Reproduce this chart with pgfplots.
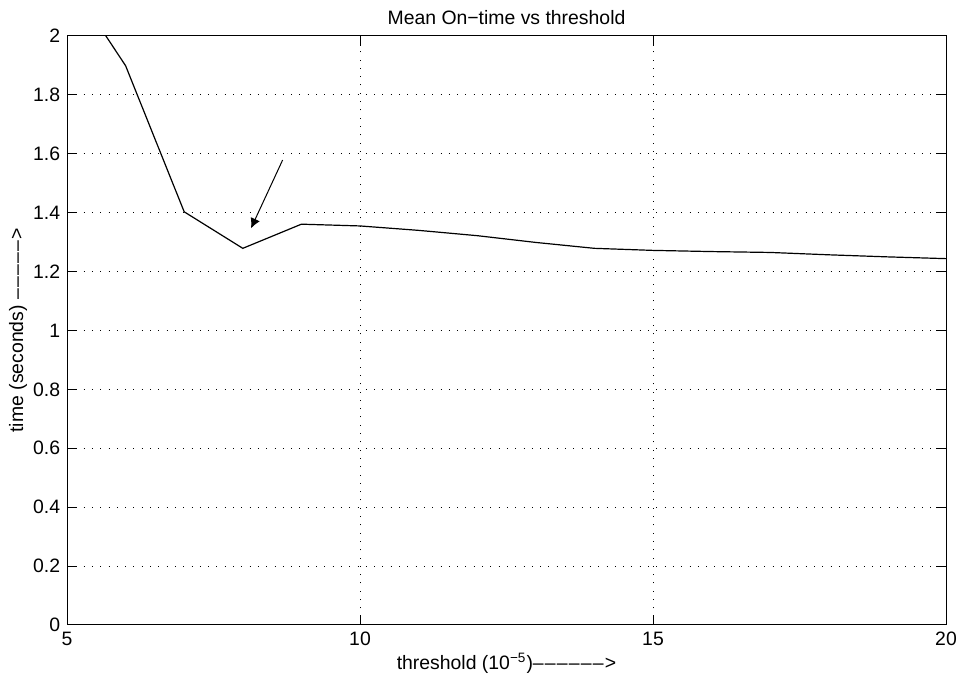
\documentclass[border=0pt]{standalone}
\usepackage{fontspec}
\setmainfont{Liberation Sans}
\usepackage{pgfplots}
\pgfplotsset{compat=1.18}
\usetikzlibrary{arrows.meta}
\newcommand{\ld}{\textendash\kern0.6pt}
\begin{document}
\fontsize{9.7}{11.5}\selectfont
\begin{tikzpicture}
\useasboundingbox (-33.5pt,-27pt) rectangle (448pt,312.5pt);
\begin{axis}[
    scale only axis,
    width=439.5pt, height=294.5pt,
    xmin=5, xmax=20, ymin=0, ymax=2,
    xtick={5,10,15,20},
    ytick={0,0.2,0.4,0.6,0.8,1,1.2,1.4,1.6,1.8,2},
    grid=major,
    major grid style={black, line width=0.5pt, dash pattern=on 0.5pt off 3.65pt},
    major tick length=5pt,
    axis line style={line width=0.5pt},
    every tick/.style={black, line width=0.5pt},
    /pgf/number format/assume math mode=true,
    title={Mean On−time vs threshold},
    every axis title/.style={at={(axis description cs:0.5,1.032)}, anchor=center, inner sep=0pt},
    xlabel={threshold (10\textsuperscript{−5})\ld\ld\ld\ld\ld\ld>},
    xlabel style={at={(axis description cs:0.5,-0.0645)}, anchor=center, inner sep=0pt},
    ylabel={time (seconds) \ld\ld\ld\ld\ld>},
    ylabel style={at={(axis description cs:-0.0557,0.5)}, anchor=center, inner sep=0pt},
]
% mean on-time
\addplot[black, line width=0.6pt] coordinates {
    (5, 2.20) (6, 1.899) (7, 1.403) (8, 1.279) (9, 1.361) (10, 1.355)
    (11, 1.340) (12, 1.322) (13, 1.299) (14, 1.279) (15, 1.272)
    (16, 1.268) (17, 1.265) (18, 1.257) (19, 1.250) (20, 1.244)
};
\draw[black, line width=0.5pt, -{Latex[length=5pt, width=5pt]}]
    (axis cs:8.68,1.579) -- (axis cs:8.14,1.347);
\end{axis}
\end{tikzpicture}
\end{document}
